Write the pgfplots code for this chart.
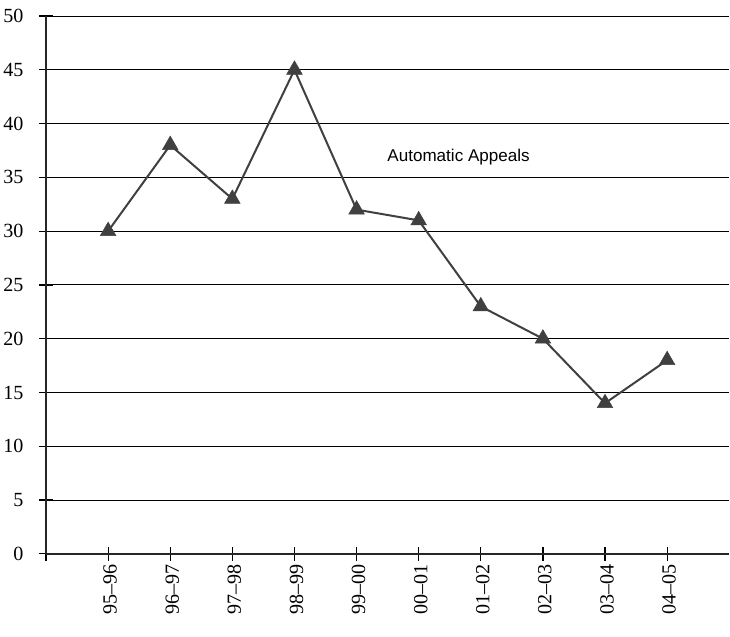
\documentclass[border=0pt]{standalone}
\usepackage{pgfplots}
\pgfplotsset{compat=1.18}
\usepackage{fontspec}
\setmainfont{Liberation Serif}
\newfontfamily\arialfont{Liberation Sans}
\definecolor{ln}{HTML}{404040}
\begin{document}
\begin{tikzpicture}
\begin{axis}[
  name=ax,
  scale only axis,
  width=681pt, height=536pt,
  xmin=0, xmax=11, ymin=0, ymax=50,
  axis x line*=bottom, axis y line*=left,
  axis line style={-, line width=1.5pt, black!85},
  xtick={0,1,2,3,4,5,6,7,8,9,10},
  xticklabels={,95--96,96--97,97--98,98--99,99--00,00--01,01--02,02--03,03--04,04--05},
  x tick label style={rotate=90, anchor=east, font=\fontsize{20}{22}\selectfont, yshift=-2pt},
  ytick={0,5,...,50},
  y tick label style={font=\fontsize{20}{22}\selectfont, xshift=-12pt},
  /pgf/number format/assume math mode=true,
  tick align=center,
  major tick length=14pt,
  major tick style={black, line width=1.2pt},
  ymajorgrids,
  grid style={black, line width=0.9pt},
  clip=false,
]
\addplot[ln, line width=2pt, mark=triangle*, mark size=9pt, mark options={fill=ln, draw=ln, line width=0.5pt}]
coordinates {(1,30) (2,38) (3,33) (4,45) (5,32) (6,31) (7,23) (8,20) (9,14) (10,18)};
\node[anchor=west, font=\arialfont\fontsize{17}{20}\selectfont] at (axis cs:5.44,36.9) {Automatic Appeals};
\end{axis}
\path (ax.north east) ++(0,16pt) coordinate (tr);
\path (ax.south west) ++(0,-82pt) coordinate (bl);
\path (bl) (tr);
\end{tikzpicture}
\end{document}
